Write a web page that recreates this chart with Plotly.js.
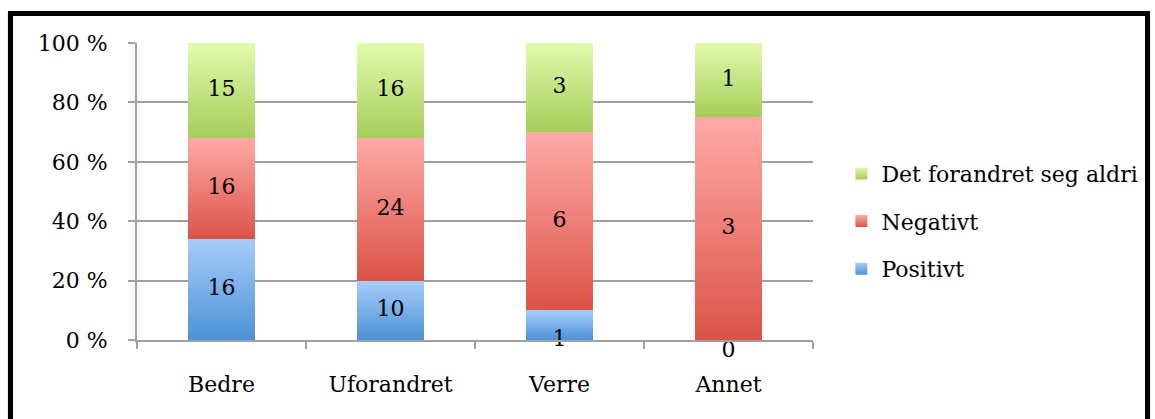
<!DOCTYPE html>
<html>
<head>
<meta charset="utf-8">
<script src="https://cdn.plot.ly/plotly-3.0.1.min.js"></script>
<style>
html,body{margin:0;padding:0;background:#fff;}
#chart{position:absolute;left:0;top:0;width:1155px;height:419px;}
#frame{position:absolute;left:8px;top:11px;width:1132px;height:420px;border:5px solid #000;border-bottom:none;pointer-events:none;box-shadow:0 1px 1px #999;}
</style>
</head>
<body>
<div id="chart"></div>
<div id="frame"></div>
<script>
// ---- data ----
const categories = ["Bedre", "Uforandret", "Verre", "Annet"];
const positivt = [16, 10, 1, 0];
const negativt = [16, 24, 6, 3];
const aldri = [15, 16, 3, 1];
const seriesNames = ["Positivt", "Negativt", "Det forandret seg aldri"];
const yTickVals = [0, 20, 40, 60, 80, 100];
const yTickText = ["0 %", "20 %", "40 %", "60 %", "80 %", "100 %"];

const seriesValues = [positivt, negativt, aldri];
const baseColors = ["#78aee8", "#ee8580", "#c5e387"];
const gradStops = [["#a6cdfa", "#4c92d7"], ["#ffaaa7", "#dc5347"], ["#e1fbad", "#a6cd5a"]];
const FONT = "DejaVu Serif, serif";

const traces = seriesValues.map((vals, i) => ({
  type: "bar",
  name: seriesNames[i],
  x: categories,
  y: vals,
  marker: {color: baseColors[i], line: {width: 0}},
  hoverinfo: "skip",
  legendgroup: "g" + i,
  legendrank: 10 - i
}));

// label trace: positions derived from the data (percent centres of segments)
const lx = [], ly = [], lt = [], lp = [];
categories.forEach((c, j) => {
  const total = seriesValues.reduce((s, a) => s + a[j], 0);
  let cum = 0;
  seriesValues.forEach(vals => {
    const share = vals[j] / total * 100;
    lx.push(c);
    lt.push(String(vals[j]));
    if (share < 12) {
      ly.push(cum);
      lp.push(share === 0 ? "bottom center" : "middle center");
    } else {
      ly.push(cum + share / 2);
      lp.push("middle center");
    }
    cum += share;
  });
});
traces.push({
  type: "scatter", mode: "text", x: lx, y: ly, text: lt, textposition: lp,
  textfont: {family: FONT, size: 22, color: "#000"},
  showlegend: false, hoverinfo: "skip", cliponaxis: false
});

const layout = {
  width: 1155, height: 419,
  margin: {l: 137, r: 339, t: 43, b: 79, pad: 0},
  paper_bgcolor: "rgba(0,0,0,0)", plot_bgcolor: "rgba(0,0,0,0)",
  barmode: "stack", barnorm: "percent", bargap: 0.6,
  font: {family: FONT, size: 22, color: "#000"},
  showlegend: true,
  legend: {
    x: 1.042, y: 0.40, xanchor: "left", yanchor: "middle",
    traceorder: "grouped", tracegroupgap: 16,
    font: {family: FONT, size: 22, color: "#000"},
    bgcolor: "rgba(0,0,0,0)"
  },
  xaxis: {
    type: "category", tickson: "boundaries", ticks: "outside", ticklen: 7, tickwidth: 2,
    tickcolor: "#a0a0a0", showline: true, linecolor: "#a0a0a0", linewidth: 2,
    showgrid: false, ticklabelstandoff: 24, fixedrange: true
  },
  yaxis: {
    range: [0, 100], tickmode: "array", tickvals: yTickVals, ticktext: yTickText,
    ticks: "outside", ticklen: 7, tickwidth: 2,
    tickcolor: "#a0a0a0", showline: true, linecolor: "#a0a0a0", linewidth: 2,
    showgrid: true, gridcolor: "#a0a0a0", gridwidth: 2, zeroline: false,
    ticklabelstandoff: 16, fixedrange: true
  }
};

Plotly.newPlot("chart", traces, layout, {displayModeBar: false, staticPlot: true}).then(gd => {
  // vertical gradients like the original
  const svg = gd.querySelector(".main-svg");
  const NS = "http://www.w3.org/2000/svg";
  let defs = svg.querySelector("defs");
  if (!defs) { defs = document.createElementNS(NS, "defs"); svg.insertBefore(defs, svg.firstChild); }
  gradStops.forEach((st, i) => {
    const g = document.createElementNS(NS, "linearGradient");
    g.setAttribute("id", "bargrad" + i);
    g.setAttribute("x1", "0"); g.setAttribute("y1", "0"); g.setAttribute("x2", "0"); g.setAttribute("y2", "1");
    [[0, st[0]], [1, st[1]]].forEach(([o, c]) => {
      const s = document.createElementNS(NS, "stop");
      s.setAttribute("offset", o); s.setAttribute("stop-color", c);
      g.appendChild(s);
    });
    defs.appendChild(g);
  });
  gd.querySelectorAll(".barlayer .trace").forEach((t, i) => {
    t.querySelectorAll("path").forEach(p => { p.style.fill = "url(#bargrad" + i + ")"; });
  });
  gd.querySelectorAll(".legend .traces").forEach(t => {
    const name = t.querySelector(".legendtext").textContent;
    const i = seriesNames.indexOf(name);
    t.querySelectorAll(".legendpoints path").forEach(p => { if (i >= 0) p.style.fill = "url(#bargrad" + i + ")"; });
  });
});
</script>
</body>
</html>
